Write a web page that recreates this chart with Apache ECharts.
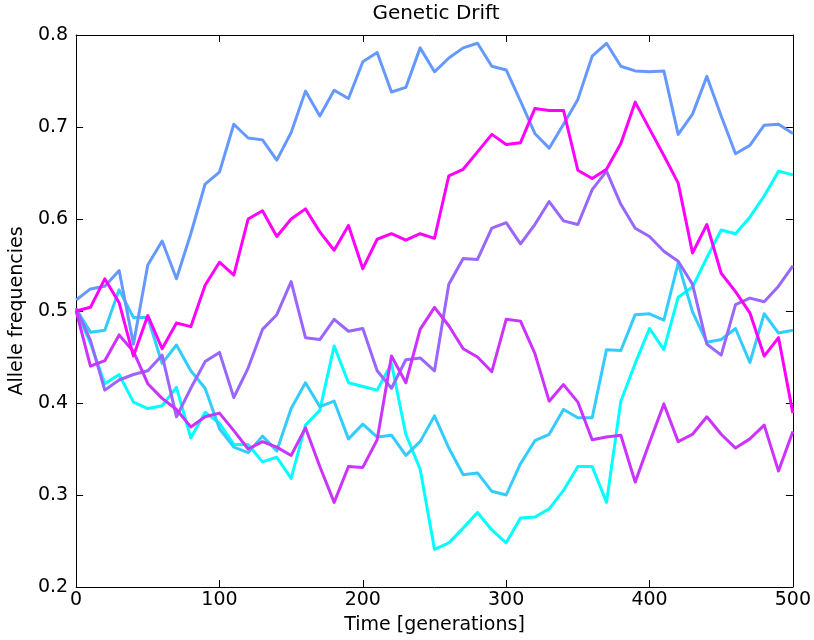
<!DOCTYPE html>
<html>
<head>
<meta charset="utf-8">
<script src="https://cdn.jsdelivr.net/npm/echarts@6/dist/echarts.min.js"></script>
<style>
html,body{margin:0;padding:0;background:#fff;}
#chart{width:814px;height:640px;}
</style>
</head>
<body>
<div id="chart"></div>
<script>
var generations = [0,10,20,30,40,50,60,70,80,90,100,110,120,130,140,150,160,170,180,190,200,210,220,230,240,250,260,270,280,290,300,310,320,330,340,350,360,370,380,390,400,410,420,430,440,450,460,470,480,490,500];

var cyanLine = [0.500,0.465,0.421,0.431,0.401,0.394,0.397,0.417,0.362,0.390,0.378,0.355,0.355,0.336,0.341,0.318,0.376,0.392,0.462,0.422,0.418,0.414,0.443,0.366,0.328,0.241,0.248,0.264,0.281,0.262,0.248,0.275,0.276,0.285,0.305,0.331,0.331,0.292,0.402,0.443,0.481,0.458,0.515,0.526,0.558,0.588,0.584,0.602,0.625,0.652,0.648];

var skyLine = [0.502,0.477,0.479,0.523,0.493,0.493,0.443,0.463,0.435,0.416,0.372,0.352,0.346,0.364,0.348,0.394,0.422,0.396,0.402,0.361,0.377,0.363,0.365,0.343,0.358,0.386,0.351,0.322,0.324,0.304,0.300,0.334,0.359,0.366,0.393,0.384,0.384,0.458,0.457,0.496,0.497,0.490,0.552,0.499,0.466,0.469,0.481,0.444,0.497,0.476,0.479];

var blueLine = [0.512,0.524,0.527,0.544,0.464,0.550,0.576,0.535,0.584,0.638,0.651,0.703,0.688,0.686,0.664,0.694,0.739,0.712,0.740,0.731,0.771,0.781,0.738,0.743,0.786,0.760,0.775,0.786,0.791,0.766,0.762,0.728,0.693,0.677,0.703,0.730,0.777,0.791,0.766,0.761,0.760,0.761,0.692,0.714,0.755,0.712,0.671,0.680,0.702,0.703,0.693];

var purpleLine = [0.503,0.468,0.414,0.425,0.431,0.435,0.452,0.385,0.416,0.445,0.455,0.406,0.438,0.480,0.496,0.532,0.471,0.469,0.491,0.478,0.481,0.435,0.416,0.447,0.449,0.435,0.529,0.557,0.556,0.590,0.596,0.573,0.594,0.619,0.598,0.594,0.632,0.652,0.616,0.590,0.581,0.565,0.554,0.529,0.464,0.452,0.507,0.514,0.510,0.527,0.549];

var violetLine = [0.500,0.440,0.446,0.474,0.456,0.421,0.405,0.393,0.374,0.385,0.389,0.370,0.350,0.358,0.352,0.343,0.373,0.331,0.292,0.331,0.330,0.360,0.451,0.422,0.480,0.504,0.484,0.459,0.450,0.434,0.491,0.489,0.454,0.402,0.420,0.401,0.360,0.363,0.365,0.314,0.357,0.399,0.358,0.366,0.385,0.366,0.351,0.361,0.376,0.326,0.369];

var magentaLine = [0.500,0.504,0.535,0.509,0.451,0.495,0.459,0.487,0.483,0.528,0.553,0.539,0.600,0.609,0.581,0.600,0.611,0.586,0.566,0.593,0.546,0.578,0.584,0.577,0.584,0.579,0.647,0.654,0.673,0.692,0.681,0.683,0.720,0.718,0.718,0.653,0.644,0.654,0.682,0.727,0.698,0.669,0.639,0.563,0.594,0.541,0.521,0.498,0.451,0.471,0.389];

var seriesList = [cyanLine, skyLine, blueLine, purpleLine, violetLine, magentaLine];
var seriesColors = ['#00ffff', '#33ccff', '#6699ff', '#9966ff', '#cc33ff', '#ff00ff'];

var FONT = 'DejaVu Sans';

function pairs(vals) {
  return generations.map(function (g, i) { return [g, vals[i]]; });
}

var chart = echarts.init(document.getElementById('chart'), null, {renderer: 'canvas'});

var axisCommon = {
  axisLine: {show: true, onZero: false, lineStyle: {color: '#000', width: 1}},
  axisTick: {show: true, inside: true, length: 7, lineStyle: {color: '#000', width: 1}},
  splitLine: {show: false}
};

chart.setOption({
  animation: false,
  backgroundColor: '#fff',
  title: {
    text: 'Genetic Drift',
    left: 436, top: 4, padding: 0,
    textAlign: 'center',
    textStyle: {fontFamily: FONT, fontSize: 20, fontWeight: 'normal', color: '#000'}
  },
  grid: {left: 75, top: 35, right: 17, bottom: 46, containLabel: false},
  xAxis: [
    Object.assign({
      type: 'value', min: 0, max: 500, interval: 100, position: 'bottom',
      name: 'Time [generations]', nameLocation: 'middle', nameGap: 29,
      nameTextStyle: {fontFamily: FONT, fontSize: 19, color: '#000'},
      axisLabel: {fontFamily: FONT, fontSize: 19, color: '#000', margin: 4}
    }, axisCommon),
    Object.assign({
      type: 'value', min: 0, max: 500, interval: 100, position: 'top',
      axisLabel: {show: false}
    }, axisCommon)
  ],
  yAxis: [
    Object.assign({
      type: 'value', min: 0.2, max: 0.8, interval: 0.1, position: 'left',
      name: 'Allele frequencies', nameLocation: 'middle', nameGap: 41,
      nameTextStyle: {fontFamily: FONT, fontSize: 19, color: '#000'},
      axisLabel: {fontFamily: FONT, fontSize: 19, color: '#000', margin: 8,
        formatter: function (v) { return v.toFixed(1); }}
    }, axisCommon),
    Object.assign({
      type: 'value', min: 0.2, max: 0.8, interval: 0.1, position: 'right',
      axisLabel: {show: false}
    }, axisCommon)
  ],
  series: seriesList.map(function (vals, i) {
    return {
      type: 'line',
      xAxisIndex: 0, yAxisIndex: 0,
      data: pairs(vals),
      showSymbol: false,
      symbol: 'none',
      smooth: false,
      lineStyle: {color: seriesColors[i], width: 3, join: 'round'},
      itemStyle: {color: seriesColors[i]},
      z: 2 + i
    };
  })
});
</script>
</body>
</html>
